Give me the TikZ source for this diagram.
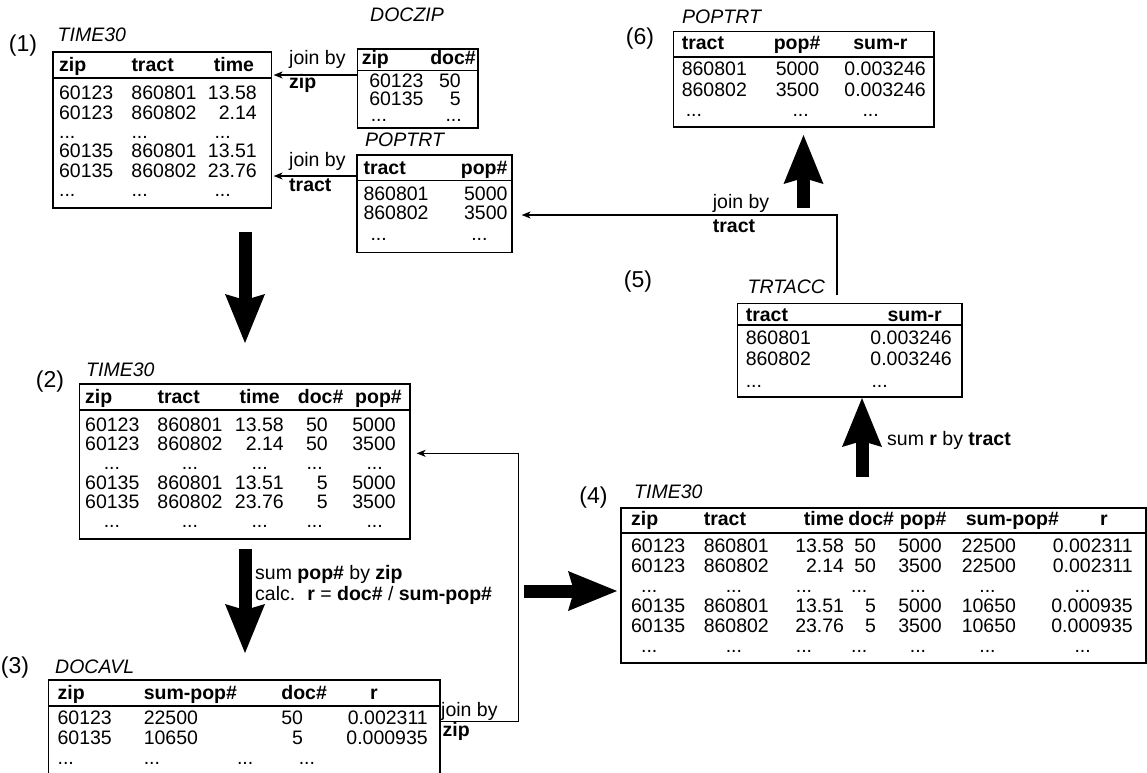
\documentclass[tikz,border=0pt]{standalone}
\usepackage{fontspec}
\setmainfont{Liberation Sans}
\usepackage{array}
\usetikzlibrary{arrows.meta}
\newcolumntype{L}[1]{>{\raggedright\arraybackslash}p{#1}}
\newcolumntype{R}[1]{>{\raggedleft\arraybackslash}p{#1}}
\newcolumntype{C}[1]{>{\centering\arraybackslash}p{#1}}
\setlength{\tabcolsep}{0pt}
\setlength{\arrayrulewidth}{1.6pt}
\exhyphenpenalty=10000
\hyphenpenalty=10000
\tikzset{
  tbl/.style 2 args={draw, line width=1.6pt, anchor=north west, inner xsep=0pt, inner ysep=#2,
    font={\fontsize{19.5}{#1}\selectfont}},
  tname/.style={anchor=base west, inner sep=0pt, font={\fontsize{19.5}{20}\selectfont\itshape}},
  note/.style={anchor=base west, inner sep=0pt, font={\fontsize{19.5}{20}\selectfont}},
  numlbl/.style={inner sep=0pt, font={\fontsize{23}{24}\selectfont}},
  joinarrow/.style={line width=1.3pt, -{Stealth[length=9pt, width=7pt, inset=2.5pt]}},
  bigarrow/.style={line width=13pt, -{Stealth[length=49pt, width=40pt, inset=6pt, line width=0pt]}}
}

\begin{document}
\begin{tikzpicture}[x=1pt,y=-1pt]
  \useasboundingbox (0,0) rectangle (1147,772);

  % (1) TIME30
  \node[numlbl] (n1) at (23,46) {(1)};
  \node[tname] (nameT1) at (57.5,41.7) {TIME30};
  \node[tbl={19.4pt}{5.3pt}] (time1) at (52,51) {%
    \begin{tabular}{@{\hspace{6.3pt}}L{72.4pt}L{70pt}R{55.3pt}@{\hspace{14.5pt}}}
      \bfseries zip & \bfseries tract & \bfseries time\kern2.7pt\\ \hline\noalign{\vskip 7.4pt}
      60123 & 860801 & 13.58\\
      60123 & 860802 & 2.14\\
      ... & ... & ...\kern26pt\\
      60135 & 860801 & 13.51\\
      60135 & 860802 & 23.76\\
      ... & ... & ...\kern26pt
    \end{tabular}};

  % DOCZIP
  \node[tname] (nameDZ) at (370,21.7) {DOCZIP};
  \node[tbl={16pt}{1.5pt}] (doczip) at (356.5,48.3) {%
    \begin{tabular}{@{\hspace{4.5pt}}L{68pt}R{46pt}@{\hspace{2.4pt}}}
      \bfseries zip & \bfseries doc\#\\ \hline\noalign{\vskip 2.4pt}
      \hspace*{7.5pt}60123 & 50\kern15pt\\
      \hspace*{7.5pt}60135 & \phantom{0}5\kern15pt\\
      \hspace*{9pt}... & ...\kern14pt
    \end{tabular}};

  % POPTRT
  \node[tname] (namePA) at (365,146.7) {POPTRT};
  \node[tbl={17.5pt}{6.5pt}] (poptrtA) at (356,154) {%
    \begin{tabular}{@{\hspace{6.7pt}}L{97pt}R{47pt}@{\hspace{4.3pt}}}
      \bfseries tract & \bfseries pop\#\\ \hline\noalign{\vskip 5.2pt}
      860801 & 5000\\
      860802 & 3500\\[4pt]
      \hspace*{7pt}... & ...\kern20pt
    \end{tabular}};

  % joins into (1)
  \draw[joinarrow, shorten >=1.5pt] (doczip.west |- 0,75) -- (time1.east |- 0,75);
  \node[note] (jz1) at (289,64) {join by};
  \node[note] (jz2) at (289,88) {\textbf{zip}};
  \draw[joinarrow, shorten >=1.5pt] (poptrtA.west |- 0,176) -- (time1.east |- 0,176);
  \node[note] (jt1) at (289,166) {join by};
  \node[note] (jt2) at (289,191.7) {\textbf{tract}};

  % (1) -> (2)
  \coordinate (d1a) at (245,232);
  \coordinate (d1b) at (245,343);
  \draw[bigarrow] (d1a) -- (d1b);

  % (2) TIME30
  \node[numlbl] (n2) at (50,381.7) {(2)};
  \node[tname] (nameT2) at (86,376.7) {TIME30};
  \node[tbl={19.2pt}{5.3pt}] (time2) at (78.5,383.3) {%
    \begin{tabular}{@{\hspace{5.9pt}}L{72.3pt}L{70pt}R{56.3pt}R{59.6pt}R{58.4pt}@{\hspace{8pt}}}
      \bfseries zip & \bfseries tract & \bfseries time\kern4pt & \bfseries doc\# & \bfseries pop\#\\ \hline\noalign{\vskip 6.8pt}
      60123 & 860801 & 13.58 & 50\kern15.6pt & 5000\kern6pt\\
      60123 & 860802 & 2.14 & 50\kern15.6pt & 3500\kern6pt\\
      \hspace*{18.6pt}... & \hspace*{24.3pt}... & ...\kern16pt & ...\kern20.6pt & ...\kern19pt\\
      60135 & 860801 & 13.51 & \phantom{0}5\kern15.6pt & 5000\kern6pt\\
      60135 & 860802 & 23.76 & \phantom{0}5\kern15.6pt & 3500\kern6pt\\
      \hspace*{18.6pt}... & \hspace*{24.3pt}... & ...\kern16pt & ...\kern20.6pt & ...\kern19pt
    \end{tabular}};

  % (2) -> (3)
  \coordinate (d2a) at (245,549);
  \coordinate (d2b) at (245,653);
  \draw[bigarrow] (d2a) -- (d2b);
  \node[note] (sum1) at (255,579.3) {sum \textbf{pop\#} by \textbf{zip}};
  \node[note] (sum2) at (255,600) {calc.\hspace{12pt}\textbf{r} = \textbf{doc\#} / \textbf{sum-pop\#}};

  % (3) DOCAVL
  \node[numlbl] (n3) at (15,667.5) {(3)};
  \node[tname] (nameT3) at (55,673.3) {DOCAVL};
  \node[tbl={20pt}{5pt}] (docavl) at (47.5,679.3) {%
    \begin{tabular}{@{\hspace{9.3pt}}L{86.2pt}L{137.6pt}L{46.4pt}R{100pt}@{\hspace{12pt}}}
      \bfseries zip & \bfseries \mbox{sum-pop\#} & \bfseries doc\# & \bfseries r\kern50pt\\ \hline\noalign{\vskip 3.4pt}
      60123 & 22500 & 50 & 0.002311\\
      60135 & 10650 & \phantom{0}5 & 0.000935\\
      ... & ...\hspace{77pt}... & \hspace*{17.4pt}... &
    \end{tabular}};

  % join back into (2)
  \coordinate (ret) at (518.3,453.3);
  \draw[joinarrow, shorten >=6pt] (docavl.east |- 0,721.7) -| (ret) -- (time2.east |- ret);
  \node[note] (jz3) at (441,716) {join by};
  \node[note] (jz4) at (442.5,736) {\textbf{zip}};

  % (2)/(3) -> (4)
  \coordinate (r3a) at (524,591);
  \coordinate (r3b) at (617,591);
  \draw[bigarrow] (r3a) -- (r3b);

  % (4) TIME30
  \node[numlbl] (n4) at (593.5,497.5) {(4)};
  \node[tname] (nameT4) at (634,498) {TIME30};
  \node[tbl={20pt}{4pt}] (time4) at (620,507) {%
    \begin{tabular}{@{\hspace{10.3pt}}L{72.7pt}L{80pt}R{60.3pt}C{54.2pt}L{63.5pt}L{84pt}R{87pt}@{\hspace{13pt}}}
      \bfseries zip & \bfseries tract & \bfseries time & \bfseries doc\# & \hspace*{1.5pt}\bfseries pop\# & \hspace*{4pt}\bfseries \mbox{sum-pop\#} & \bfseries r\kern25pt\\ \hline\noalign{\vskip 5.4pt}
      60123 & 860801 & 13.58 & 50\kern12pt & 5000 & 22500 & 0.002311\\
      60123 & 860802 & 2.14 & 50\kern12pt & 3500 & 22500 & 0.002311\\
      \hspace*{10pt}... & \hspace*{22pt}... & ...\kern32pt & ...\kern24pt & \hspace*{11.5pt}... & \hspace*{17.5pt}... & ...\kern42pt\\
      60135 & 860801 & 13.51 & \phantom{0}5\kern12pt & 5000 & 10650 & 0.000935\\
      60135 & 860802 & 23.76 & \phantom{0}5\kern12pt & 3500 & 10650 & 0.000935\\
      \hspace*{10pt}... & \hspace*{22pt}... & ...\kern32pt & ...\kern24pt & \hspace*{11.5pt}... & \hspace*{17.5pt}... & ...\kern42pt
    \end{tabular}};

  % (4) -> (5)
  \coordinate (u4a) at (862,477);
  \coordinate (u4b) at (862,398);
  \draw[bigarrow] (u4a) -- (u4b);
  \node[note] (sum3) at (887,445) {sum \textbf{r} by \textbf{tract}};

  % (5) TRTACC
  \node[numlbl] (n5) at (638,282) {(5)};
  \node[tname] (nameTA) at (747.5,293.3) {TRTACC};
  \node[tbl={21.5pt}{3.3pt}] (trtacc) at (736.7,302.7) {%
    \begin{tabular}{@{\hspace{8.3pt}}L{120pt}R{86pt}@{\hspace{10pt}}}
      \bfseries tract & \bfseries sum-r\kern10pt\\ \noalign{\vskip -4.2pt}\hline\noalign{\vskip 3.4pt}
      860801 & 0.003246\\
      860802 & 0.003246\\
      ... & ...\kern64pt
    \end{tabular}};

  % join TRTACC into POPTRT
  \coordinate (up5) at (837,295);
  \draw[joinarrow, shorten >=9pt] (up5) |- (poptrtA.east |- 0,215);
  \node[note] (jt3) at (712.7,208) {join by};
  \node[note] (jt4) at (712.7,232) {\textbf{tract}};

  % (5) -> (6)
  \coordinate (u5a) at (803.5,208);
  \coordinate (u5b) at (803.5,135);
  \draw[bigarrow] (u5a) -- (u5b);

  % (6) POPTRT
  \node[numlbl] (n6) at (640,38.5) {(6)};
  \node[tname] (nameP6) at (682,23.3) {POPTRT};
  \node[tbl={20.5pt}{4pt}] (poptrt6) at (672.5,30.7) {%
    \begin{tabular}{@{\hspace{8.5pt}}L{92pt}L{68.7pt}R{83.3pt}@{\hspace{8.3pt}}}
      \bfseries tract & \bfseries pop\# & \bfseries sum-r\kern18.3pt\\ \hline\noalign{\vskip 3.9pt}
      860801 & \hspace*{2pt}5000 & 0.003246\\
      860802 & \hspace*{2pt}3500 & 0.003246\\
      \hspace*{4pt}... & \hspace*{18.7pt}... & ...\kern47pt
    \end{tabular}};
\end{tikzpicture}
\end{document}
